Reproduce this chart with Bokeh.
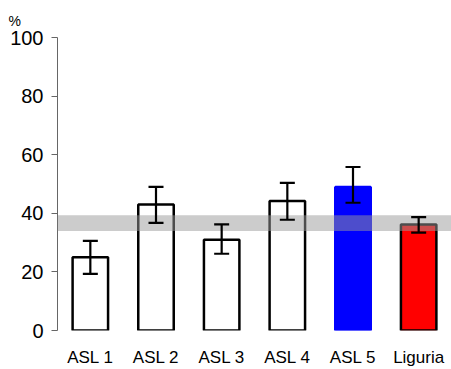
from bokeh.plotting import figure
from bokeh.models import ColumnDataSource, Whisker, BoxAnnotation, Title, FactorRange
from bokeh.embed import file_html
from bokeh.resources import INLINE

categories = ["ASL 1", "ASL 2", "ASL 3", "ASL 4", "ASL 5", "Liguria"]
values = [25.0, 43.0, 31.0, 44.2, 49.0, 36.2]
lower = [19.3, 36.7, 26.2, 37.8, 43.6, 33.4]
upper = [30.6, 49.0, 36.2, 50.4, 55.8, 38.7]
fills = ["white", "white", "white", "white", "#0000ff", "#ff0000"]
outlines = ["black", "black", "black", "black", "#0000ff", "black"]
band_low = 34.0
band_high = 39.3

src = ColumnDataSource(dict(x=categories, top=values, lower=lower, upper=upper,
                            fill=fills, line=outlines))

p = figure(width=451, height=369, x_range=FactorRange(*categories), y_range=(0, 100),
           output_backend="svg", toolbar_location=None,
           min_border_left=57, min_border_right=0, min_border_top=37, min_border_bottom=39)
p.outline_line_color = None
p.grid.grid_line_color = None

p.vbar(x="x", top="top", bottom=0, width=0.54, source=src,
       fill_color="fill", line_color="line", line_width=2.5)

w = Whisker(base="x", upper="upper", lower="lower", source=src,
            line_color="black", line_width=2.2, level="overlay")
w.upper_head.size = 15
w.lower_head.size = 15
w.upper_head.line_width = 2.2
w.lower_head.line_width = 2.2
w.upper_head.line_color = "black"
w.lower_head.line_color = "black"
p.add_layout(w)

band = BoxAnnotation(bottom=band_low, top=band_high, fill_color="#999999",
                     fill_alpha=0.5, line_color=None)
p.add_layout(band)

p.yaxis.ticker = [0, 20, 40, 60, 80, 100]
p.yaxis.minor_tick_line_color = None
p.yaxis.major_tick_in = 0
p.yaxis.major_tick_out = 6
p.yaxis.axis_line_color = "#666666"
p.yaxis.major_tick_line_color = "#666666"
p.yaxis.major_label_text_font = "Liberation Sans"
p.yaxis.major_label_text_font_size = "20px"
p.yaxis.major_label_text_color = "black"
p.yaxis.major_label_standoff = 8

p.xaxis.axis_line_color = None
p.xaxis.major_tick_line_color = None
p.xaxis.minor_tick_line_color = None
p.xaxis.major_label_text_font = "Liberation Sans"
p.xaxis.major_label_text_font_size = "17px"
p.xaxis.major_label_text_color = "black"
p.xaxis.major_label_standoff = 11

pct = Title(text="%", align="left", offset=-49, standoff=18,
            text_font="Liberation Sans", text_font_size="14px",
            text_font_style="normal", text_color="black")
p.add_layout(pct, "above")

open("out.html", "w").write(file_html(p, INLINE))
